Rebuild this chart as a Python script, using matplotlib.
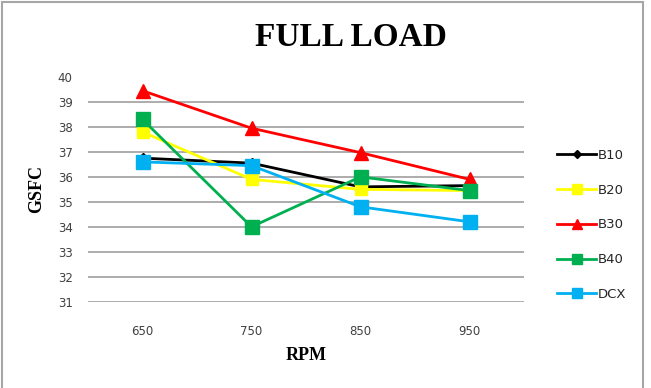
import numpy as np
import matplotlib
matplotlib.use("Agg")
import matplotlib.pyplot as plt
from matplotlib.patches import Rectangle

rpm = ["650", "750", "850", "950"]
b10 = [36.75, 36.55, 35.6, 35.65]
b20 = [37.8, 35.9, 35.5, 35.45]
b30 = [39.45, 37.95, 36.97, 35.9]
b40 = [38.3, 34.0, 36.0, 35.45]
dcx = [36.6, 36.45, 34.8, 34.2]

series = [
    ("B10", b10, "#000000", "D", 5),
    ("B20", b20, "#FFFF00", "s", 9),
    ("B30", b30, "#FF0000", "^", 10),
    ("B40", b40, "#00B050", "s", 10),
    ("DCX", dcx, "#00B0F0", "s", 9.5),
]

fig = plt.figure(figsize=(6.51, 3.88), dpi=100)
ax = fig.add_axes([88 / 651, 86.3 / 388, 436 / 651, 224.7 / 388])

x = np.arange(len(rpm))
for name, vals, col, mk, ms in series:
    ax.plot(x, vals, color=col, lw=2.0, marker=mk, markersize=ms, label=name)

ax.set_xlim(-0.5, 3.5)
ax.set_ylim(31, 40)
ax.set_yticks(range(31, 41))
ax.set_xticks(x)
ax.set_xticklabels(rpm)
ax.yaxis.grid(True, color="#a6a6a6", lw=1.3)
ax.set_axisbelow(True)
ax.yaxis.get_gridlines()[-1].set_visible(False)
for s in ax.spines.values():
    s.set_visible(False)
ax.tick_params(length=0, labelsize=8.5, labelcolor="#404040")
ax.tick_params(axis="x", pad=17)
ax.tick_params(axis="y", pad=11)

ax.set_xlabel("RPM", family="Liberation Serif", weight="bold", fontsize=13, labelpad=6)
ax.set_ylabel("GSFC", family="Liberation Serif", weight="bold", fontsize=13, labelpad=9)
fig.text(351 / 651, 1 - 37 / 388, "FULL LOAD", family="Liberation Serif",
         weight="bold", fontsize=24, ha="center", va="center")

leg = ax.legend(loc="upper left", bbox_to_anchor=(545 / 651, 1 - 137 / 388),
                bbox_transform=fig.transFigure, frameon=False, fontsize=9.5,
                handlelength=3.0, handletextpad=0.1, labelspacing=1.65,
                markerscale=0.75)
for t in leg.get_texts():
    t.set_color("#262626")

fig.patches.append(Rectangle((1.5 / 651, -0.02), 641 / 651, 1.0 - 1.5 / 388 + 0.02,
                             transform=fig.transFigure, fill=False,
                             edgecolor="#a6a6a6", lw=1.5))

fig.savefig("out.png", dpi=100)
